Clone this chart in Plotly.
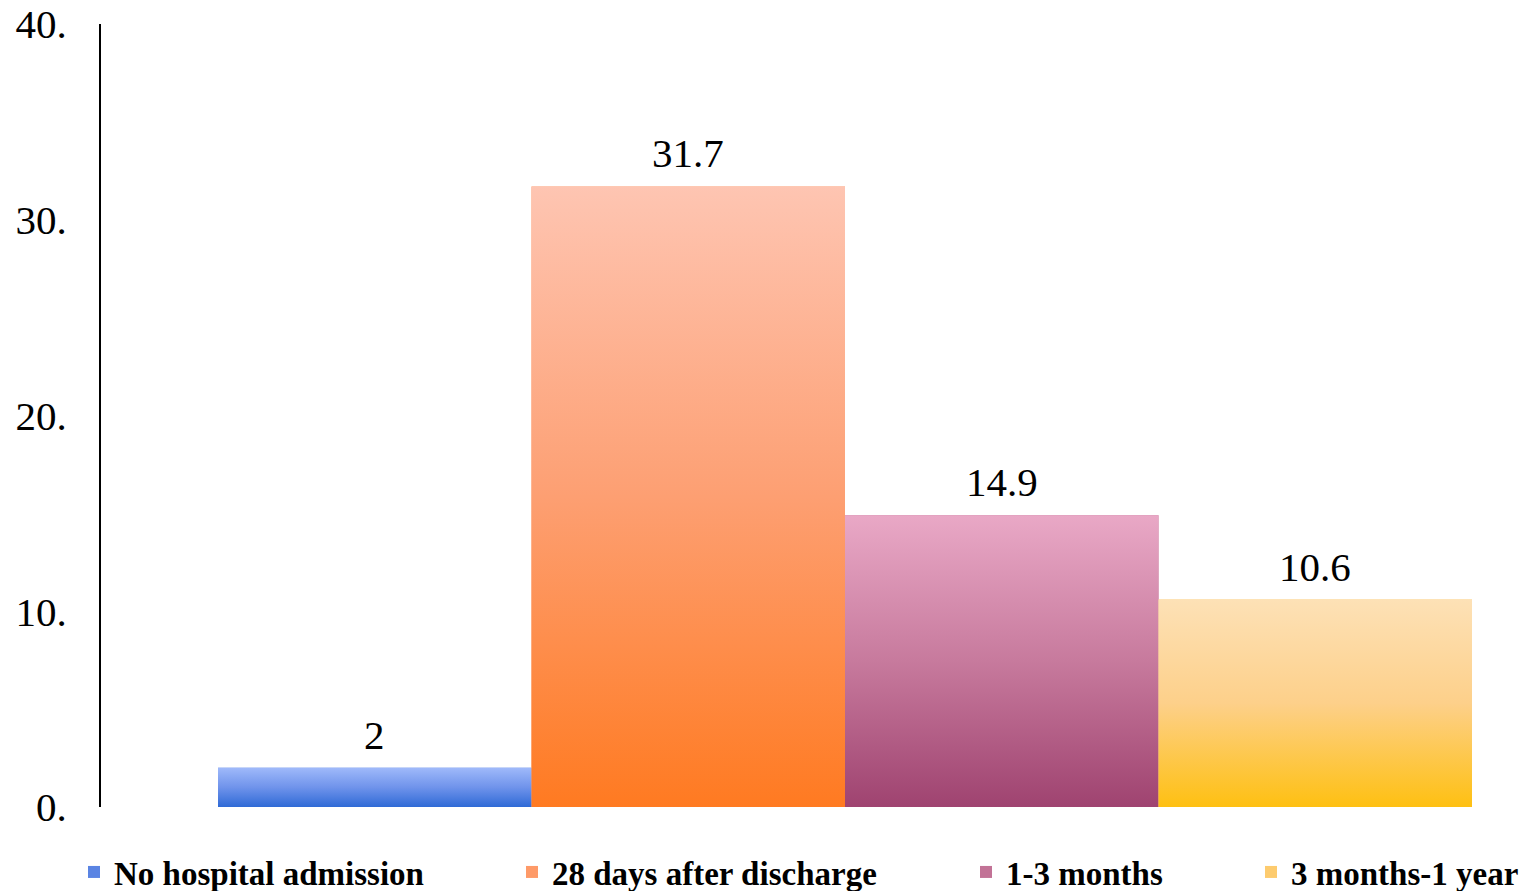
import plotly.graph_objects as go

categories = ["No hospital admission", "28 days after discharge", "1-3 months", "3 months-1 year"]
values = [2, 31.7, 14.9, 10.6]
value_labels = ["2", "31.7", "14.9", "10.6"]
top_colors = ["#9fb9fa", "#fec5b2", "#e9a8c6", "#fde1b6"]
mid_colors = ["#6f93eb", "#fd9f72", "#c77a9d", "#fdd08a"]
bottom_colors = ["#2f6ad6", "#ff7a21", "#9f4370", "#fec012"]
legend_colors = ["#5a84e3", "#fe9a68", "#c27296", "#fdcb6e"]
y_ticks = [0, 10, 20, 30, 40]
y_tick_labels = ["0.", "10.", "20.", "30.", "40."]

W, H = 1528, 891
L, R, T, B = 101, 0, 24, 84
pw = W - L - R
ph = H - T - B
unit = 313.5
x0 = -0.5 - (218 - L) / unit
x1 = x0 + pw / unit

legend_px = [88, 526, 980, 1265]
legend_names = ["legend", "legend2", "legend3", "legend4"]

fig = go.Figure()

# bars (for legend + base colour)
for i, (c, v) in enumerate(zip(categories, values)):
    fig.add_trace(go.Bar(
        x=[i], y=[v], width=[1], name=c,
        marker=dict(color=legend_colors[i], line=dict(width=0)),
        legend=legend_names[i], hoverinfo="skip",
    ))

# gradient overlays
for i, (c, v) in enumerate(zip(categories, values)):
    fig.add_trace(go.Scatter(
        x=[i - 0.5, i + 0.5, i + 0.5, i - 0.5, i - 0.5],
        y=[0, 0, v, v, 0],
        mode="none", fill="toself", showlegend=False, hoverinfo="skip",
        fillgradient=dict(type="vertical",
                          colorscale=[[0, bottom_colors[i]], [0.5, mid_colors[i]], [1, top_colors[i]]]),
    ))

for i, (v, lab) in enumerate(zip(values, value_labels)):
    fig.add_annotation(x=i, y=v, text=lab, showarrow=False, yanchor="bottom", yshift=8,
                       font=dict(family="Liberation Serif", size=41, color="#000"))

layout_legends = {}
for i, name in enumerate(legend_names):
    layout_legends[name] = dict(
        x=(legend_px[i] - 14 - L) / pw, xanchor="left",
        yref="container", y=(H - 872) / H, yanchor="middle",
        orientation="h", bgcolor="rgba(0,0,0,0)", borderwidth=0,
        font=dict(family="Liberation Serif", size=33, color="#000", weight="bold"),
    )

fig.update_layout(
    width=W, height=H,
    margin=dict(l=L, r=R, t=T, b=B, pad=0, autoexpand=False),
    paper_bgcolor="white", plot_bgcolor="white",
    barmode="overlay", showlegend=True,
    xaxis=dict(range=[x0, x1], visible=False, fixedrange=True),
    yaxis=dict(range=[0, 40], tickvals=y_ticks, ticktext=y_tick_labels,
               showgrid=False, zeroline=False, showline=True, linecolor="#000", linewidth=2,
               ticks="", ticklabelstandoff=24,
               tickfont=dict(family="Liberation Serif", size=41, color="#000")),
    **layout_legends,
)

fig.write_html("out.html")
